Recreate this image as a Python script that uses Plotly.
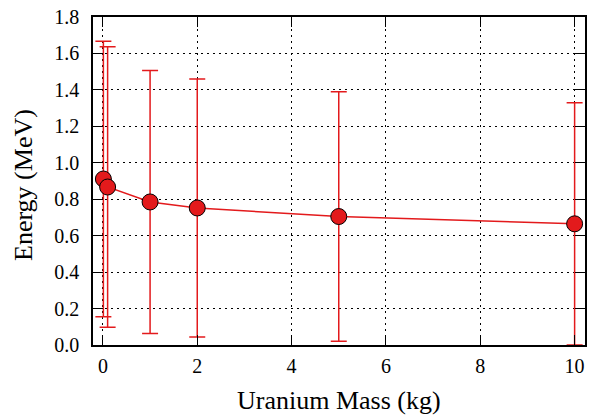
import plotly.graph_objects as go

mass = [0.01, 0.1, 1, 2, 5, 10]
energy = [0.911, 0.867, 0.785, 0.752, 0.705, 0.665]
err = [0.756, 0.770, 0.722, 0.708, 0.685, 0.665]
x_title = "Uranium Mass (kg)"
y_title = "Energy (MeV)"

red = "#e31a1c"
fig = go.Figure()
fig.add_trace(go.Scatter(
    x=mass, y=energy, mode="lines+markers",
    line=dict(color=red, width=1.5),
    marker=dict(size=16, color=red, line=dict(color="black", width=1)),
    error_y=dict(type="data", array=err, visible=True, color=red, thickness=1.5, width=8),
    showlegend=False,
))
font = "Liberation Serif, Times New Roman, serif"
axis_common = dict(
    showline=True, linecolor="black", linewidth=1.5, mirror="ticks",
    ticks="inside", ticklen=10, tickwidth=1, tickcolor="black",
    showgrid=True, gridcolor="black", griddash="2px,4px", gridwidth=1,
    zeroline=False, tickfont=dict(family=font, size=20, color="black"),
    automargin=False,
)
fig.update_xaxes(range=[-0.21, 10.22], tickvals=[0, 2, 4, 6, 8, 10],
                 ticklabelstandoff=2, **axis_common)
fig.update_yaxes(range=[0, 1.8], tickvals=[0, 0.2, 0.4, 0.6, 0.8, 1.0, 1.2, 1.4, 1.6, 1.8],
                 tickformat=".1f", ticklabelstandoff=8, **axis_common)
title_font = dict(family=font, size=26, color="black")
fig.add_annotation(text=x_title, xref="paper", yref="paper", x=0.5, y=0,
                   xanchor="center", yanchor="middle", yshift=-55,
                   showarrow=False, font=title_font)
fig.add_annotation(text=y_title, xref="paper", yref="paper", x=0, y=0.5,
                   xanchor="center", yanchor="middle", xshift=-70, yshift=-4,
                   textangle=-90, showarrow=False, font=title_font)
fig.update_layout(
    width=600, height=417,
    margin=dict(l=93, r=15, t=17, b=72),
    plot_bgcolor="white", paper_bgcolor="white",
    font=dict(family=font),
)
fig.write_html("out.html")
